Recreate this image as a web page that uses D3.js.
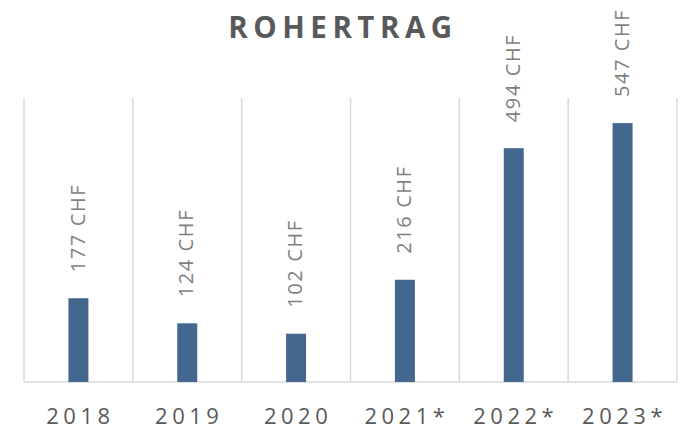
<!DOCTYPE html>
<html><head><meta charset="utf-8">
<script src="https://cdn.jsdelivr.net/npm/d3@7"></script>
<style>body{margin:0;background:#fff}svg{display:block}</style>
</head><body>
<svg id="c" width="689" height="432"></svg>
<script>
const categories = ["2018","2019","2020","2021*","2022*","2023*"];
const values = [177,124,102,216,494,547];
const labels = ["177 CHF","124 CHF","102 CHF","216 CHF","494 CHF","547 CHF"];
const title = "ROHERTRAG";

(function(){
const svg = d3.select("#c");
const pl = 24, pr = 677, pt = 98, pb = 382;
const x = d3.scaleBand().domain(categories).range([pl, pr]).padding(0);
const y = d3.scaleLinear().domain([0, 600]).range([pb, pt]);
const bw = 20;

const edges = categories.map(c => x(c)).concat([pr]);
svg.append("g").selectAll("line").data(edges).join("line")
  .attr("x1", d => d).attr("x2", d => d).attr("y1", pt).attr("y2", pb)
  .attr("stroke", "#d9d9d9").attr("stroke-width", 1.5);
svg.append("line").attr("x1", pl).attr("x2", pr).attr("y1", pb).attr("y2", pb)
  .attr("stroke", "#d9d9d9").attr("stroke-width", 1.5);

svg.append("g").selectAll("rect").data(values).join("rect")
  .attr("x", (d,i) => x(categories[i]) + x.bandwidth()/2 - bw/2)
  .attr("width", bw)
  .attr("y", d => y(d))
  .attr("height", d => pb - y(d))
  .attr("fill", "#44678f");

svg.append("g").selectAll("text").data(values).join("text")
  .attr("transform", (d,i) => `translate(${x(categories[i]) + x.bandwidth()/2 - 1},${y(d) - 26}) rotate(-90)`)
  .attr("dy", "0.36em")
  .attr("font-family", "'Open Sans', sans-serif")
  .attr("font-size", 20)
  .attr("letter-spacing", 1.6)
  .attr("fill", "#7f7f7f")
  .text((d,i) => labels[i]);

svg.append("g").selectAll("text").data(categories).join("text")
  .attr("x", d => x(d) + x.bandwidth()/2 + 2)
  .attr("y", 424)
  .attr("text-anchor", "middle")
  .attr("font-family", "'Open Sans', sans-serif")
  .attr("font-size", 22)
  .attr("letter-spacing", 4.5)
  .attr("fill", "#595959")
  .text(d => d);

svg.append("text")
  .attr("x", 343).attr("y", 38)
  .attr("text-anchor", "middle")
  .attr("font-family", "'Open Sans', sans-serif")
  .attr("font-weight", "bold")
  .attr("font-size", 29.5)
  .attr("letter-spacing", 5.5)
  .attr("fill", "#595959")
  .text(title);
})();
</script>
</body></html>
